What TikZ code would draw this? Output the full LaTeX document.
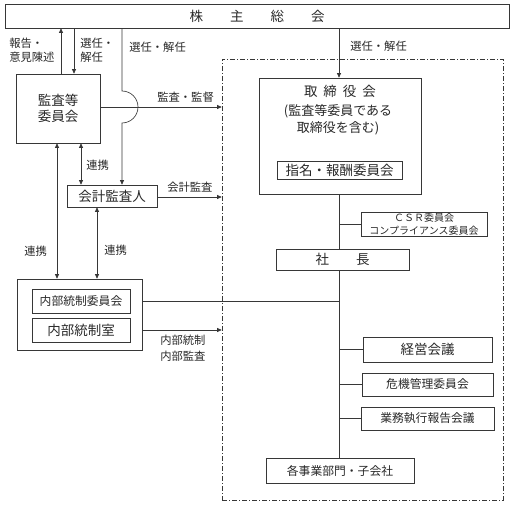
\documentclass[tikz,border=0pt]{standalone}
\usepackage{fontspec}
\setmainfont{Noto Sans CJK JP}
\usetikzlibrary{arrows.meta, positioning}
\definecolor{linecolor}{RGB}{55, 55, 55}
\definecolor{textcolor}{RGB}{40, 40, 40}

\begin{document}
\begin{tikzpicture}[
    x=1pt, y=-1pt,
    line width=0.65pt,
    box/.style={draw=linecolor, rectangle, inner sep=0pt, align=center, text=textcolor},
    big_txt/.style={font=\fontsize{13.5}{16}\selectfont},
    mid_txt/.style={font=\fontsize{11.8}{14}\selectfont},
    small_txt/.style={font=\fontsize{10}{12.5}\selectfont},
    lbl/.style={font=\fontsize{11.3}{14}\selectfont, text=textcolor, align=left, anchor=west, inner sep=0pt},
    ctrl_area/.style={draw=linecolor, dash pattern=on 5pt off 2pt on 1pt off 2pt},
    arr/.style={draw=linecolor, -{Triangle[length=4.5pt,width=4pt]}},
    arr2/.style={draw=linecolor, {Triangle[length=4.5pt,width=4pt]}-{Triangle[length=4.5pt,width=4pt]}},
    link/.style={draw=linecolor}
]
    \useasboundingbox (0,0) rectangle (514,505);

    % Shareholders meeting
    \node[box, big_txt, minimum width=504pt, minimum height=24pt] (gm) at (257,16) {株\hspace{27pt}主\hspace{27pt}総\hspace{27pt}会};

    % Execution area
    \node[ctrl_area, minimum width=281pt, minimum height=441pt] (ctrl) at (362.5,279.5) {};
    \coordinate (tk) at (339,0);

    % Left side
    \node[box, big_txt, minimum width=84pt, minimum height=69pt] (audit) at (58,108.5) {監査等\\委員会};
    \node[box, big_txt, minimum width=90pt, minimum height=22pt] (acct) at (112,196) {会計監査人};
    \node[box, minimum width=125pt, minimum height=71pt] (ic) at (79.5,314.5) {};
    \node[box, mid_txt, minimum width=98pt, minimum height=24pt] (iccom) at (81,301) {内部統制委員会};
    \node[box, big_txt, minimum width=98pt, minimum height=24pt] (icoff) at (81,330) {内部統制室};

    % Board
    \node[box, minimum width=162pt, minimum height=116pt] (board) at (340,136) {};
    \node[big_txt, text=textcolor, inner sep=0pt] (board_ttl) at (340,91) {取\hspace{6pt}締\hspace{6pt}役\hspace{6pt}会};
    \node[text=textcolor, inner sep=0pt, align=center, font=\fontsize{13}{17}\selectfont] (board_sub) at (338,120) {(監査等委員である\\取締役を含む)};
    \node[box, big_txt, minimum width=125pt, minimum height=18pt] (nom) at (339.5,170) {指名・報酬委員会};

    % Executive side
    \node[box, small_txt, minimum width=126pt, minimum height=24pt] (csr) at (424,224) {ＣＳＲ委員会\\コンプライアンス委員会};
    \node[box, big_txt, minimum width=133pt, minimum height=21pt] (pres) at (342.5,259.5) {社\hspace{27pt}長};
    \node[box, big_txt, minimum width=129pt, minimum height=25pt] (mgmt) at (427.5,349.5) {経営会議};
    \node[box, mid_txt, minimum width=131pt, minimum height=23pt] (risk) at (427.5,384.5) {危機管理委員会};
    \node[box, mid_txt, minimum width=133pt, minimum height=23pt] (exrep) at (427.5,418.5) {業務執行報告会議};
    \node[box, mid_txt, minimum width=148pt, minimum height=25pt] (div) at (340,470.5) {各事業部門・子会社};

    % Connections to the meeting
    \draw[arr] ([xshift=3pt]audit.north) -- ([xshift=3pt]audit.north |- gm.south);
    \draw[arr] ([xshift=16pt]audit.north |- gm.south) -- ([xshift=16pt]audit.north);
    \draw[arr] ([xshift=10pt]acct.north |- gm.south) -- (122,91) arc (-90:90:16) -- ([xshift=10pt]acct.north);
    \draw[arr] (gm.south -| tk) -- (board.north -| tk);

    \node[lbl] (l_rep) at (9,50) {報告・\\意見陳述};
    \node[lbl] (l_sel1) at (80,50) {選任・\\解任};
    \node[lbl] (l_sel2) at (129,47) {選任・解任};
    \node[lbl] (l_sel3) at (350,46) {選任・解任};

    % Audit
    \draw[arr] (audit.east |- 0,107) -- (ctrl.west |- 0,107);
    \node[lbl] (l_aud) at (157,97) {監査・監督};
    \draw[arr] (acct.east |- 0,197) -- (ctrl.west |- 0,197);
    \node[lbl] (l_acc) at (167,187) {会計監査};
    \draw[arr] (icoff.east -| ic.east) -- (icoff -| ctrl.west);
    \node[lbl, font=\fontsize{11.3}{16}\selectfont] (l_ic) at (160,348) {内部統制\\内部監査};

    % Cooperation
    \draw[arr2] ([xshift=23pt]audit.south) -- ([xshift=23pt]audit.south |- acct.north);
    \node[lbl] (l_co1) at (86,165) {連携};
    \draw[arr2] ([xshift=-1pt]audit.south) -- ([xshift=-1pt]audit.south |- ic.north);
    \node[lbl] (l_co2) at (24,251) {連携};
    \draw[arr2] ([xshift=-15pt]acct.south) -- ([xshift=-15pt]acct.south |- ic.north);
    \node[lbl] (l_co3) at (104,250) {連携};

    % Trunk
    \draw[link] (board.south -| tk) -- (pres.north -| tk);
    \draw[link] (pres.south -| tk) -- (div.north -| tk);
    \draw[link] (csr.west -| tk) -- (csr.west);
    \draw[link] (iccom -| ic.east) -- (iccom -| tk);
    \draw[link] (mgmt.west -| tk) -- (mgmt.west);
    \draw[link] (risk.west -| tk) -- (risk.west);
    \draw[link] (exrep.west -| tk) -- (exrep.west);

\end{tikzpicture}
\end{document}
